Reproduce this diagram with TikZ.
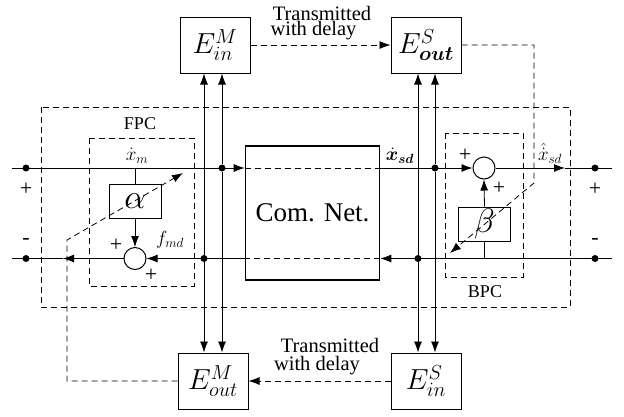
\documentclass[tikz,border=0pt]{standalone}
\usepackage{fix-cm}
\usepackage{amsmath,bm}
\usepackage{fontspec}
\setmainfont{Liberation Serif}
\usetikzlibrary{arrows.meta}
\tikzset{
  ln/.style={line width=0.8pt},
  arr/.style={-{Latex[length=11pt,width=8pt]}},
  dsh/.style={dash pattern=on 6pt off 4pt, line width=0.8pt},
  ebox/.style={draw, line width=1pt, minimum width=70pt, minimum height=56pt, inner sep=0pt, font=\fontsize{29}{32}\selectfont},
  gbox/.style={draw, line width=1pt, minimum width=52pt, minimum height=34pt, inner sep=0pt, font=\fontsize{34}{36}\selectfont},
  netbox/.style={draw, line width=1.6pt, minimum width=134pt, minimum height=134pt, inner sep=0pt, font=\fontsize{27}{30}\selectfont},
  sumc/.style={draw, circle, minimum size=22pt, inner sep=0pt, line width=1pt},
  dotn/.style={circle, fill, minimum size=7pt, inner sep=0pt},
  lbl/.style={font=\fontsize{19}{21}\selectfont, inner sep=0pt},
  sgn/.style={font=\fontsize{22}{24}\selectfont, inner sep=0pt},
  txt/.style={font=\fontsize{20.5}{22}\selectfont, inner sep=0pt},
  grp/.style={font=\fontsize{18}{20}\selectfont, inner sep=0pt},
}
\begin{document}
\begin{tikzpicture}[x=1pt,y=-1pt]
\useasboundingbox (0,0) rectangle (624,416);
% dashed group boxes
\draw[dsh] (41,107) rectangle (570,307);
\draw[dsh] (89,138) rectangle (194,286);
\draw[dsh] (445,133) rectangle (523,277);
\node[grp] (fpc) at (140,124) {FPC};
\node[grp] (bpc) at (485,292) {BPC};
% blocks
\node[ebox] (EinM) at (215,45) {$E_{in}^{M}$};
\node[ebox] (EoutS) at (426,45) {$E_{\bm{out}}^{S}$};
\node[ebox] (EoutM) at (213,381) {$E_{out}^{M}$};
\node[ebox] (EinS) at (426,381) {$E_{in}^{S}$};
\node[netbox] (net) at (312.5,213) {Com. Net.};
\node[gbox] (alpha) at (135,201) {$\alpha$};
\node[gbox] (beta) at (484.5,224) {$\beta$};
\node[sumc] (sumA) at (135,258.5) {};
\node[sumc] (sumB) at (484,168) {};
% line ends and junctions
\coordinate (tl) at (12,168);
\coordinate (tr) at (612,168);
\coordinate (bl) at (12,258.5);
\coordinate (br) at (612,258.5);
\coordinate (tipT) at (565,168);
\coordinate (tipB) at (63,258.5);
\node[dotn] (L1) at (26,168) {};
\node[dotn] (L2) at (26,258.5) {};
\node[dotn] (R1) at (595,168) {};
\node[dotn] (R2) at (595,258.5) {};
\node[dotn] (J1) at (222,168) {};
\node[dotn] (J2) at (204,258.5) {};
\node[dotn] (J3) at (435,168) {};
\node[dotn] (J4) at (418,258.5) {};
% top signal path
\draw[ln,arr] (tl) -- (tl -| net.west);
\draw[dsh] (tl -| net.west) -- (tl -| net.east);
\draw[ln,arr] (tl -| net.east) -- (sumB.west);
\draw[ln,arr] (sumB.east) -- (tipT);
\draw[ln] (tipT) -- (tr);
% bottom signal path
\draw[ln,arr] (br) -- (br -| net.east);
\draw[dsh] (bl -| net.east) -- (bl -| net.west);
\draw[ln,arr] (bl -| net.west) -- (sumA.east);
\draw[ln,arr] (sumA.west) -- (tipB);
\draw[ln] (tipB) -- (bl);
% gains
\draw[ln] (alpha.north) -- (alpha.north |- tl);
\draw[ln,arr] (alpha.south) -- (sumA.north);
\draw[ln] (beta.south) -- (beta.south |- bl);
\draw[ln,arr] (beta.north) -- (sumB.south);
% verticals to encoders
\draw[ln,arr] (J1) -- (J1 |- EinM.south);
\draw[ln,arr] (J1) -- (J1 |- EoutM.north);
\draw[ln,arr] (J2) -- (J2 |- EinM.south);
\draw[ln,arr] (J2) -- (J2 |- EoutM.north);
\draw[ln,arr] (J3) -- (J3 |- EoutS.south);
\draw[ln,arr] (J3) -- (J3 |- EinS.north);
\draw[ln,arr] (J4) -- (J4 |- EoutS.south);
\draw[ln,arr] (J4) -- (J4 |- EinS.north);
% transmission lines
\draw[dsh,arr] (EinM.east) -- (EoutS.west);
\draw[dsh,arr] (EinS.west) -- (EoutM.east);
\coordinate (fbS1) at (534,183);
\coordinate (fbS2) at (450,253);
\coordinate (fbM1) at (67,240);
\coordinate (fbM2) at (183,173);
\draw[dsh,arr] (EoutS.east) -| (fbS1) -- (fbS2);
\draw[dsh,arr] (EoutM.west) -| (fbM1) -- (fbM2);
% texts
\node[txt] (t1) at (322,13) {Transmitted};
\node[txt] (t2) at (313.5,31) {with delay};
\node[txt] (t3) at (330,345) {Transmitted};
\node[txt] (t4) at (317,366) {with delay};
\node[lbl,anchor=south] (xm) at (137,164) {$\dot{x}_m$};
\node[lbl,anchor=south] (xsd) at (400,164) {$\bm{\dot{x}}_{\bm{sd}}$};
\node[lbl,anchor=south] (xhsd) at (550,164) {$\hat{\dot{x}}_{sd}$};
\node[lbl] (fmd) at (170,240) {$f_{md}$};
\node[sgn] (p1) at (26,189) {+};
\node[sgn] (m1) at (26,241) {-};
\node[sgn] (p2) at (595,189) {+};
\node[sgn] (m2) at (595,241) {-};
\node[sgn] (p3) at (116,245) {+};
\node[sgn] (p4) at (151,275) {+};
\node[sgn] (p5) at (465,155) {+};
\node[sgn] (p6) at (499,188) {+};
\end{tikzpicture}
\end{document}
